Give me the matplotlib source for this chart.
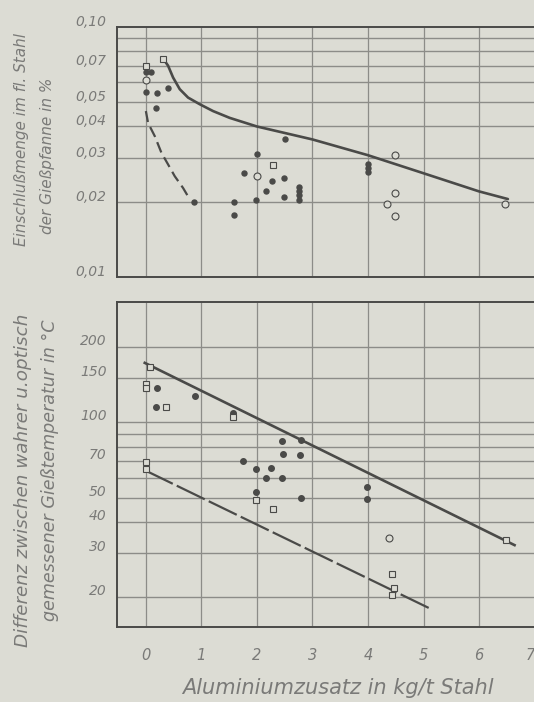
import matplotlib
matplotlib.use("Agg")
import matplotlib.pyplot as plt
import matplotlib.transforms as mtransforms

# ---------------- data ----------------
# upper panel: inclusion content (%) vs aluminium addition (kg/t)
inc_filled_x = [0.0, 0.1, 0.0, 0.2, 0.4, 0.19, 0.87, 1.59, 1.59, 1.99, 2.0, 1.77,
                2.28, 2.49, 2.17, 2.49, 2.5, 2.76, 2.76, 2.76, 2.76, 4.0, 4.0, 4.0]
inc_filled_y = [0.066, 0.066, 0.0552, 0.0543, 0.0569, 0.0473, 0.020, 0.020, 0.0177, 0.0203,
                0.031, 0.026, 0.0241, 0.0249, 0.022, 0.0209, 0.0357, 0.023, 0.0221, 0.0212,
                0.0204, 0.0284, 0.0273, 0.0262]
inc_sq_x = [0.31, 0.0, 2.29]
inc_sq_y = [0.0748, 0.0696, 0.028]
inc_circ_x = [0.0, 2.0, 4.49, 4.49, 4.35, 4.48, 6.46]
inc_circ_y = [0.0612, 0.0253, 0.0307, 0.0217, 0.0196, 0.0175, 0.0196]

inc_upper_x = [0.31, 0.40, 0.49, 0.61, 0.76, 0.97, 1.21, 1.51, 2.0, 3.0, 4.0, 5.0, 6.0, 6.52]
inc_upper_y = [0.0748, 0.0700, 0.0628, 0.0564, 0.0522, 0.0491, 0.0461, 0.0433, 0.040,
               0.0355, 0.0307, 0.026, 0.022, 0.0205]
inc_lower_x = [0.0, 0.04, 0.16, 0.28, 0.40, 0.52, 0.67, 0.76]
inc_lower_y = [0.0461, 0.0413, 0.0366, 0.0314, 0.0282, 0.0253, 0.0227, 0.0210]

# lower panel: temperature difference (°C) vs aluminium addition (kg/t)
dt_filled_x = [0.2, 0.88, 0.18, 1.57, 2.46, 2.79, 2.47, 2.77, 1.75, 1.98, 2.26, 2.17,
               2.46, 3.99, 3.98, 2.79, 1.98]
dt_filled_y = [137, 127, 115, 109, 84.4, 84.8, 75, 74, 70, 65, 65.5, 60, 60, 55, 49.4, 50, 52.8]
dt_sq_x = [0.07, 0.0, 0.0, 0.36, 1.57, 1.98, 2.29, 0.0, 0.0, 4.44, 4.47, 4.44, 6.49]
dt_sq_y = [167, 143, 137, 115, 105, 49, 45, 69.6, 65.4, 24.7, 21.8, 20.5, 34]
dt_circ_x = [4.37]
dt_circ_y = [34.5]

dt_upper_x = [-0.02, 6.64]
dt_upper_y = [173, 32.3]
dt_lower_x = [-0.02, 5.12]
dt_lower_y = [64.4, 18.0]

x_ticks = [0, 1, 2, 3, 4, 5, 6, 7]
inc_grid = [0.02, 0.03, 0.04, 0.05, 0.06, 0.07, 0.08, 0.09]
inc_labels = {0.10: "0,10", 0.07: "0,07", 0.05: "0,05", 0.04: "0,04",
              0.03: "0,03", 0.02: "0,02", 0.01: "0,01"}
dt_grid = [20, 30, 40, 50, 60, 70, 80, 90, 100, 150, 200]
dt_labels = [200, 150, 100, 70, 50, 40, 30, 20]

# ---------------- style ----------------
BG = "#dcdcd4"
INK = "#4a4a48"
GRID = "#8c8c88"
TXT = "#7a7a78"
FONT = ["Liberation Sans Narrow", "DejaVu Sans"]

fig = plt.figure(figsize=(5.34, 7.02), dpi=100, facecolor=BG)
W, H = 534.0, 702.0


def make_axes(top_px, bottom_px):
    ax = fig.add_axes([117 / W, 1 - bottom_px / H, 1 - 117 / W, (bottom_px - top_px) / H])
    ax.set_facecolor(BG)
    ax.set_xlim(-0.52, 6.99)
    ax.set_yscale("log")
    for s in ["left", "top", "bottom"]:
        ax.spines[s].set_color(INK)
        ax.spines[s].set_linewidth(1.4)
    ax.spines["right"].set_visible(False)
    ax.tick_params(left=False, bottom=False, labelleft=False, labelbottom=False,
                   which="both")
    ax.minorticks_off()
    for xv in x_ticks[:-1]:
        ax.axvline(xv, color=GRID, lw=0.9, zorder=1)
    return ax


def ylabel_texts(ax, items, dy_px):
    off = mtransforms.ScaledTranslation(0, dy_px / 100.0, fig.dpi_scale_trans)
    tr = ax.get_yaxis_transform() + off
    for val, lab in items:
        ax.text(-0.025, val, lab, transform=tr, ha="right", va="center",
                fontsize=10, style="italic", color=TXT, family=FONT)


# ----- upper panel -----
ax1 = make_axes(27, 277)
ax1.set_ylim(0.01, 0.10)
for yv in inc_grid:
    ax1.axhline(yv, color=GRID, lw=1.0, zorder=1)
ylabel_texts(ax1, [(v, s) for v, s in inc_labels.items()], 5)

ax1.plot(inc_upper_x, inc_upper_y, color=INK, lw=1.9, zorder=3, solid_capstyle="round",
         solid_joinstyle="round")
ax1.plot(inc_lower_x, inc_lower_y, color=INK, lw=1.6, zorder=3, dashes=(5, 2.5))
ax1.plot(inc_filled_x, inc_filled_y, "o", ms=3.6, color=INK, mec=INK, zorder=4)
ax1.plot(inc_sq_x, inc_sq_y, "s", ms=4.2, mfc=BG, mec=INK, mew=0.8, zorder=4)
ax1.plot(inc_circ_x, inc_circ_y, "o", ms=5, mfc=BG, mec=INK, mew=0.8, zorder=4)

fig.text(22 / W, 1 - 140 / H, "Einschlußmenge im fl. Stahl",
         rotation=90, ha="center", va="center", fontsize=11, style="italic",
         color=TXT, family=FONT)
fig.text(48 / W, 1 - 156 / H, "der Gießpfanne in %",
         rotation=90, ha="center", va="center", fontsize=11, style="italic",
         color=TXT, family=FONT)

# ----- lower panel -----
ax2 = make_axes(302, 627)
ax2.set_ylim(15.2, 303)
for yv in dt_grid:
    ax2.axhline(yv, color=GRID, lw=1.0, zorder=1)
ylabel_texts(ax2, [(v, str(v)) for v in dt_labels], 6)

ax2.plot(dt_upper_x, dt_upper_y, color=INK, lw=1.9, zorder=3)
ax2.plot(dt_lower_x, dt_lower_y, color=INK, lw=1.6, zorder=3, dashes=(14, 2))
ax2.plot(dt_filled_x, dt_filled_y, "o", ms=4, color=INK, mec=INK, zorder=4)
ax2.plot(dt_sq_x, dt_sq_y, "s", ms=4.4, mfc=BG, mec=INK, mew=0.8, zorder=4)
ax2.plot(dt_circ_x, dt_circ_y, "o", ms=5, mfc=BG, mec=INK, mew=0.8, zorder=4)

for xv in x_ticks:
    ax2.text(xv, -28 / 325.0, str(xv), transform=ax2.get_xaxis_transform(),
             ha="right" if xv == x_ticks[-1] else "center", va="center",
             fontsize=10.5, style="italic", color=TXT, family=FONT)

fig.text(23 / W, 1 - 480 / H, "Differenz zwischen wahrer u.optisch",
         rotation=90, ha="center", va="center", fontsize=13.2, style="italic",
         color=TXT, family=FONT)
fig.text(50 / W, 1 - 470 / H, "gemessener Gießtemperatur in °C",
         rotation=90, ha="center", va="center", fontsize=12.6, style="italic",
         color=TXT, family=FONT)
fig.text(338 / W, 1 - 688 / H, "Aluminiumzusatz in kg/t Stahl",
         ha="center", va="center", fontsize=15, style="italic", color=TXT, family=FONT)

fig.savefig("out.png", dpi=100, facecolor=BG)
